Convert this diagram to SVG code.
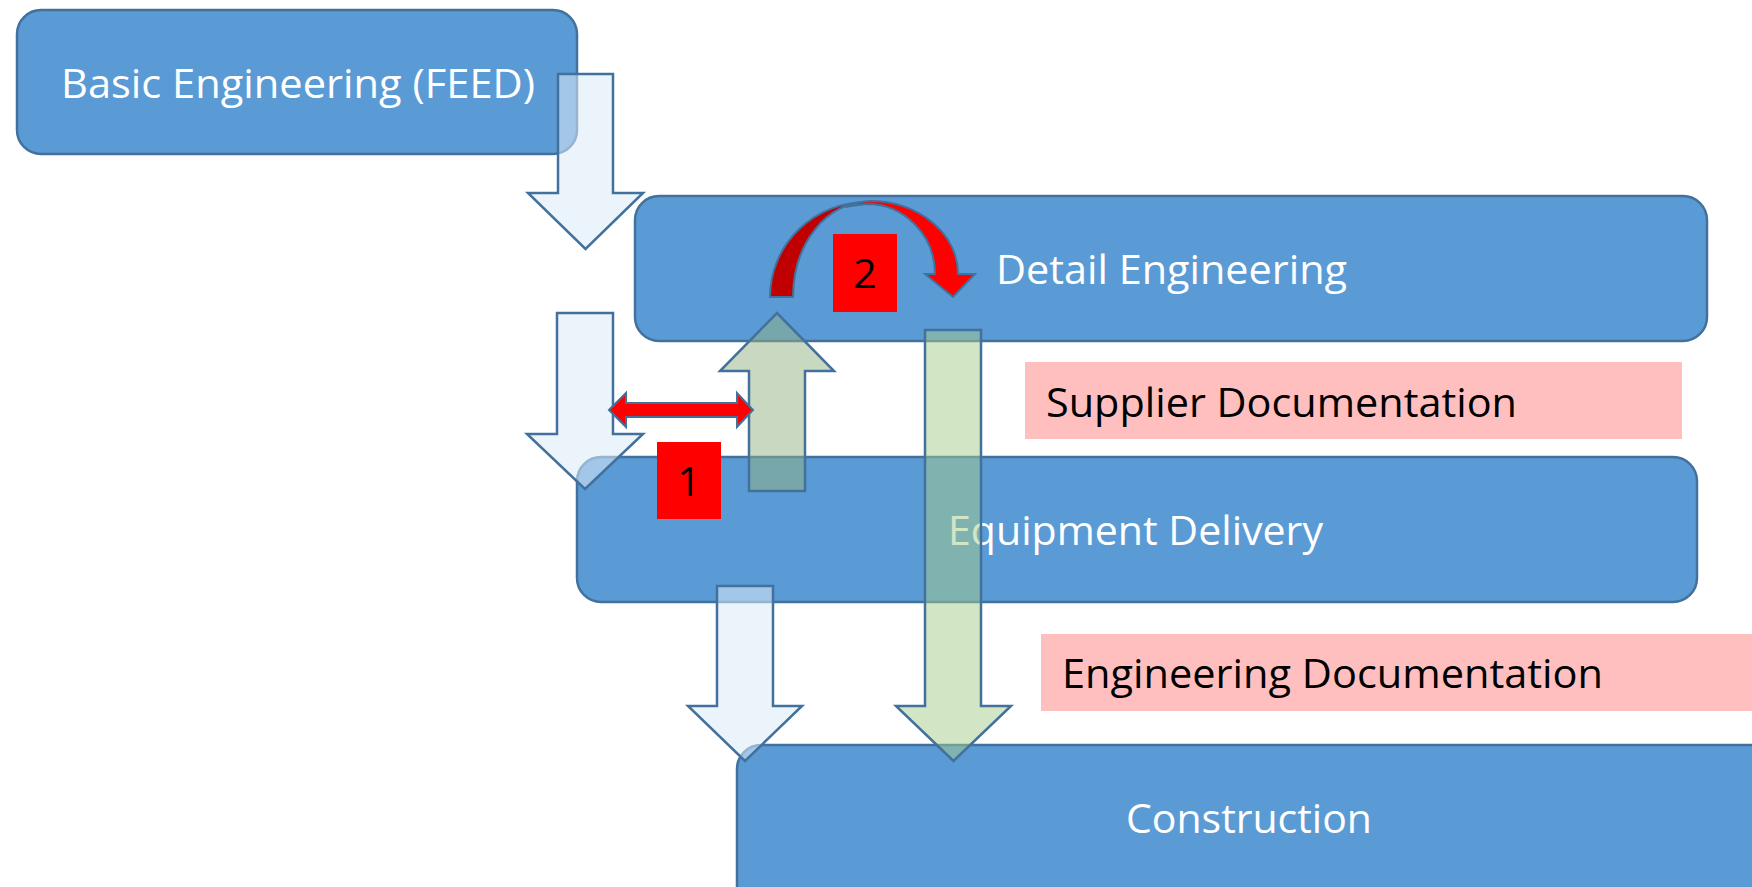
<svg xmlns="http://www.w3.org/2000/svg" width="1752" height="887" viewBox="0 0 1752 887">
<style>
.box{fill:#5B9BD5;stroke:#41719C;stroke-width:2.5}
.lbl{font-family:"Open Sans","Noto Sans","Liberation Sans",sans-serif;font-size:41px;fill:#FFFFFF}
.doc{fill:#FFBFBF}
.dtxt{font-family:"Open Sans","Noto Sans","Liberation Sans",sans-serif;font-size:41px;fill:#000000}
.wa{fill:#DDEBF7;fill-opacity:0.55;stroke:#41719C;stroke-width:2.5;stroke-linejoin:miter}
.ga{fill:#A6CC8B;fill-opacity:0.5;stroke:#41719C;stroke-width:2.5}
.gu{fill:#93B181;fill-opacity:0.5;stroke:#41719C;stroke-width:2.5}
.ra{fill:#FF0000;stroke:#41719C;stroke-width:2}
.rd{fill:#C00000;stroke:#41719C;stroke-width:2}
.num{fill:#FF0000}
.ntxt{font-family:"Open Sans","Noto Sans","Liberation Sans",sans-serif;font-size:41px;fill:#000000;text-anchor:middle}
</style>
<rect width="1752" height="887" fill="#FFFFFF"/>
<g id="basic-engineering">
<rect class="box" x="17" y="10" width="560" height="144" rx="24"/>
<text class="lbl" x="61" y="98" textLength="474" lengthAdjust="spacingAndGlyphs">Basic Engineering (FEED)</text>
</g>
<g id="detail-engineering">
<rect class="box" x="635" y="196" width="1072" height="145" rx="24"/>
<text class="lbl" x="996" y="284" textLength="351" lengthAdjust="spacingAndGlyphs">Detail Engineering</text>
</g>
<g id="equipment-delivery">
<rect class="box" x="577" y="457" width="1120" height="145" rx="24"/>
<text class="lbl" x="948" y="545" textLength="375" lengthAdjust="spacingAndGlyphs">Equipment Delivery</text>
</g>
<g id="construction">
<rect class="box" x="737" y="745" width="1100" height="220" rx="24"/>
<text class="lbl" x="1126" y="833" textLength="246" lengthAdjust="spacingAndGlyphs">Construction</text>
</g>
<g id="supplier-documentation">
<rect class="doc" x="1025" y="362" width="657" height="77"/>
<text class="dtxt" x="1046" y="417" textLength="471" lengthAdjust="spacingAndGlyphs">Supplier Documentation</text>
</g>
<g id="engineering-documentation">
<rect class="doc" x="1041" y="634" width="720" height="77"/>
<text class="dtxt" x="1062" y="688" textLength="541" lengthAdjust="spacingAndGlyphs">Engineering Documentation</text>
</g>
<g id="connectors">
<polygon class="wa" points="558,74 613,74 613,193 643,193 585.5,249 528,193 558,193"/>
<polygon class="wa" points="557,313 613,313 613,434 643,434 585,489 527,434 557,434"/>
<polygon class="wa" points="717,586 773,586 773,706 802,706 745,761 688,706 717,706"/>
<polygon class="gu" points="749,491 805,491 805,371 834,371 777,313 720,371 749,371"/>
<polygon class="ga" points="925,330 981,330 981,706 1011,706 953.5,761 896,706 925,706"/>
<polygon class="ra" points="609,410 626,393 626,403 737,403 737,393 753,410 737,427 737,417 626,417 626,427"/>
<path class="rd" d="M770,297 A97 95 0 0 1 867,202 A74 95 0 0 0 793,297 Z"/>
<path class="ra" d="M845,207 Q856,202 870,201 C918.6,201 958,233.7 958,274 L975,274 L953,297 L925,274 L935,274 C935,235.4 904.5,204 867,204 Q856,205 845,207 Z"/>
</g>
<g id="badge-1">
<rect class="num" x="657" y="442" width="64" height="77"/>
<text class="ntxt" x="689" y="496">1</text>
</g>
<g id="badge-2">
<rect class="num" x="833" y="234" width="64" height="78"/>
<text class="ntxt" x="865" y="288">2</text>
</g>
</svg>
